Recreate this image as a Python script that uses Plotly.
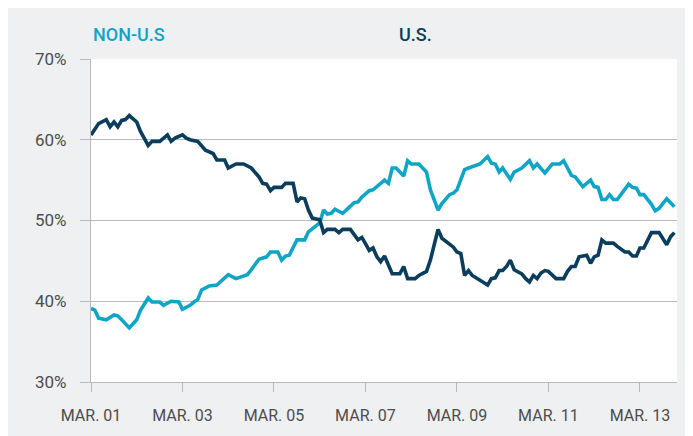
import plotly.graph_objects as go

# ---------------- data ----------------
US_DATES = [
    "2001-03", "2001-05", "2001-07", "2001-08", "2001-09", "2001-10", "2001-11", "2001-12",
    "2002-01", "2002-03", "2002-04", "2002-06", "2002-07", "2002-09", "2002-11", "2002-12",
    "2003-01", "2003-03", "2003-04", "2003-05", "2003-07", "2003-09", "2003-11", "2003-12",
    "2004-02", "2004-03", "2004-05", "2004-07", "2004-09", "2004-11", "2004-12",
    "2005-01", "2005-02", "2005-03", "2005-05", "2005-06", "2005-08", "2005-09", "2005-10",
    "2005-11", "2005-12", "2006-01", "2006-03", "2006-04", "2006-05", "2006-07", "2006-08",
    "2006-09", "2006-11", "2006-12", "2007-01", "2007-02", "2007-03", "2007-04", "2007-05",
    "2007-06", "2007-07", "2007-08", "2007-10", "2007-12", "2008-01", "2008-02", "2008-04",
    "2008-05", "2008-07", "2008-08", "2008-10", "2008-11", "2009-02", "2009-03", "2009-04",
    "2009-05", "2009-06", "2009-07", "2009-09", "2009-11", "2009-12", "2010-01", "2010-02",
    "2010-03", "2010-04", "2010-05", "2010-06", "2010-08", "2010-09", "2010-10", "2010-11",
    "2010-12", "2011-01", "2011-02", "2011-03", "2011-05", "2011-07", "2011-08", "2011-09",
    "2011-10", "2011-11", "2012-01", "2012-02", "2012-03", "2012-04", "2012-05", "2012-06",
    "2012-08", "2012-09", "2012-11", "2012-12", "2013-01", "2013-02", "2013-03", "2013-04",
    "2013-06", "2013-08", "2013-10", "2013-11", "2013-12",
]
US_VALUES = [
    60.6, 62.0, 62.5, 61.6, 62.2, 61.6, 62.4, 62.5,
    63.0, 62.2, 61.0, 59.3, 59.8, 59.8, 60.6, 59.8,
    60.2, 60.6, 60.2, 60.0, 59.8, 58.7, 58.3, 57.5,
    57.5, 56.5, 57.0, 57.0, 56.5, 55.4, 54.6,
    54.5, 53.7, 54.1, 54.1, 54.6, 54.6, 52.3, 52.8,
    52.7, 51.3, 50.3, 50.1, 48.5, 48.9, 48.9, 48.5,
    48.9, 48.9, 48.2, 47.6, 47.9, 47.2, 46.3, 46.6,
    45.5, 44.9, 45.6, 43.4, 43.4, 44.3, 42.8, 42.8,
    43.2, 43.7, 45.1, 48.9, 47.8, 46.7, 46.1, 45.9,
    43.2, 43.8, 43.2, 42.6, 42.0, 42.8, 42.9, 43.8,
    43.8, 44.3, 45.1, 43.9, 43.4, 42.8, 42.4, 43.2,
    42.8, 43.5, 43.8, 43.7, 42.8, 42.8, 43.7, 44.3,
    44.3, 45.5, 45.7, 44.7, 45.5, 45.7, 47.6, 47.2,
    47.2, 46.8, 46.1, 46.1, 45.6, 45.6, 46.6, 46.6,
    48.5, 48.5, 47.0, 48.0, 48.5,
]

NONUS_DATES = [
    "2001-03", "2001-04", "2001-05", "2001-07", "2001-09", "2001-10", "2001-11",
    "2002-01", "2002-03", "2002-04", "2002-06", "2002-07", "2002-09", "2002-10", "2002-12",
    "2003-02", "2003-03", "2003-05", "2003-06", "2003-07", "2003-08", "2003-10", "2003-12",
    "2004-01", "2004-03", "2004-05", "2004-08", "2004-09", "2004-11",
    "2005-01", "2005-02", "2005-04", "2005-05", "2005-06", "2005-07", "2005-09", "2005-11",
    "2005-12", "2006-02", "2006-03", "2006-04", "2006-05", "2006-06", "2006-07", "2006-09",
    "2006-10", "2006-12", "2007-01", "2007-02", "2007-04", "2007-05", "2007-08", "2007-09",
    "2007-10", "2007-11", "2008-01", "2008-02", "2008-03", "2008-05", "2008-07", "2008-08",
    "2008-10", "2008-11", "2009-01", "2009-02", "2009-03", "2009-05", "2009-06", "2009-08",
    "2009-09", "2009-11", "2009-12", "2010-01", "2010-02", "2010-03", "2010-05", "2010-06",
    "2010-08", "2010-10", "2010-11", "2010-12", "2011-02", "2011-04", "2011-06", "2011-07",
    "2011-09", "2011-10", "2011-12", "2012-02", "2012-03", "2012-04", "2012-05", "2012-06",
    "2012-07", "2012-08", "2012-09", "2012-12", "2013-01", "2013-02", "2013-03", "2013-04",
    "2013-06", "2013-07", "2013-08", "2013-10", "2013-11", "2013-12",
]
NONUS_VALUES = [
    39.1, 38.9, 37.9, 37.7, 38.3, 38.2, 37.7,
    36.7, 37.7, 38.9, 40.4, 39.9, 39.9, 39.5, 40.0,
    39.9, 39.0, 39.5, 39.9, 40.2, 41.4, 41.9, 42.0,
    42.4, 43.3, 42.8, 43.3, 43.9, 45.2,
    45.5, 46.1, 46.1, 45.1, 45.6, 45.7, 47.6, 47.6,
    48.6, 49.4, 49.7, 51.3, 50.8, 50.9, 51.4, 50.9,
    51.3, 52.2, 52.3, 52.9, 53.7, 53.8, 55.0, 54.6,
    56.5, 56.5, 55.5, 57.4, 57.0, 57.0, 56.0, 53.8,
    51.3, 52.1, 53.2, 53.4, 53.8, 56.3, 56.5, 56.9,
    57.0, 57.9, 57.1, 57.0, 56.0, 56.5, 55.1, 56.0,
    56.5, 57.4, 56.5, 57.0, 55.9, 57.0, 57.0, 57.4,
    55.6, 55.4, 54.2, 55.0, 54.2, 54.1, 52.6, 52.6,
    53.2, 52.6, 52.6, 54.5, 54.1, 54.0, 53.2, 53.2,
    52.0, 51.2, 51.5, 52.7, 52.2, 51.7,
]

TICK_DATES = ["2001-03-01", "2003-03-01", "2005-03-01", "2007-03-01",
              "2009-03-01", "2011-03-01", "2013-03-01"]
TICK_LABELS = ["MAR. 01", "MAR. 03", "MAR. 05", "MAR. 07",
               "MAR. 09", "MAR. 11", "MAR. 13"]
Y_TICKS = [30, 40, 50, 60, 70]
Y_TICK_LABELS = ["30%", "40%", "50%", "60%", "70%"]

SERIES_NAMES = ["NON-U.S", "U.S."]

# ---------------- styling ----------------
NAVY = "#0b3d5d"
CYAN = "#10a5c6"
PANEL = "#eff0f2"
GRID = "#b9b9b9"
LABEL = "#4d4d4d"
FONT = "Roboto"

W, H = 693, 436
ML, MR, MT, MB = 83, 24, 51, 62
PW, PH = W - ML - MR, H - MT - MB

fig = go.Figure()
fig.add_trace(go.Scatter(
    x=NONUS_DATES, y=NONUS_VALUES, mode="lines", name=SERIES_NAMES[0],
    line=dict(color=CYAN, width=3.6), hoverinfo="skip",
))
fig.add_trace(go.Scatter(
    x=US_DATES, y=US_VALUES, mode="lines", name=SERIES_NAMES[1],
    line=dict(color=NAVY, width=3.6), hoverinfo="skip",
))

fig.update_layout(
    width=W, height=H,
    margin=dict(l=ML, r=MR, t=MT, b=MB, pad=0),
    paper_bgcolor=PANEL, plot_bgcolor="white",
    showlegend=False,
    font=dict(family=FONT, color=LABEL),
    xaxis=dict(
        type="date", range=["2001-03-01", "2013-12-22"],
        tickmode="array", tickvals=TICK_DATES, ticktext=TICK_LABELS,
        ticks="outside", ticklen=9, tickwidth=1.3, tickcolor=GRID,
        showgrid=False, zeroline=False,
        showline=True, linecolor=GRID, linewidth=1.3,
        tickfont=dict(family=FONT, size=16, color=LABEL),
        ticklabelstandoff=10,
    ),
    yaxis=dict(
        range=[30, 70], tickmode="array", tickvals=Y_TICKS, ticktext=Y_TICK_LABELS,
        ticks="outside", ticklen=10, tickwidth=1.3, tickcolor=GRID,
        showgrid=True, gridcolor=GRID, gridwidth=1.3, zeroline=False,
        showline=True, linecolor=GRID, linewidth=1.3,
        tickfont=dict(family=FONT, size=17, color=LABEL),
        ticklabelstandoff=10,
    ),
    annotations=[
        dict(text=SERIES_NAMES[0], xref="paper", yref="paper",
             x=0, y=1 + (MT - 26) / PH, xanchor="left", yanchor="middle",
             showarrow=False, font=dict(family=FONT, size=18, color=CYAN, weight=500)),
        dict(text=SERIES_NAMES[1], xref="paper", yref="paper",
             x=(407 - ML) / PW, y=1 + (MT - 26) / PH, xanchor="center", yanchor="middle",
             showarrow=False, font=dict(family=FONT, size=18, color=NAVY, weight=500)),
    ],
)

fig.write_html("out.html")
